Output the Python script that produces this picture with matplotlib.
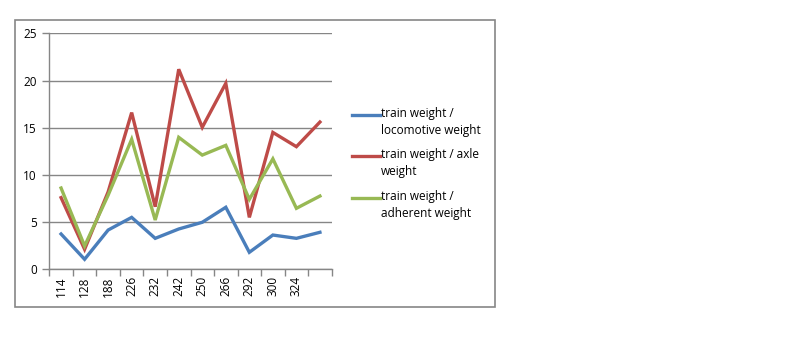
import matplotlib.pyplot as plt
from matplotlib.lines import Line2D
from matplotlib.patches import Rectangle

# category labels (last category has no label in the source)
categories = ["114", "128", "188", "226", "232", "242", "250", "266", "292", "300", "324", ""]

loco_ratio = [3.74, 1.06, 4.16, 5.5, 3.28, 4.27, 4.98, 6.57, 1.8, 3.63, 3.28, 3.92]
axle_ratio = [7.59, 2.12, 8.2, 16.6, 6.63, 21.19, 15.04, 19.7, 5.5, 14.5, 12.99, 15.6]
adherent_ratio = [8.61, 2.47, 7.85, 13.77, 5.22, 13.98, 12.1, 13.13, 7.41, 11.7, 6.46, 7.76]

series_labels = [
    "train weight /\nlocomotive weight",
    "train weight / axle\nweight",
    "train weight /\nadherent weight",
]
colors = ["#4A7EBB", "#BE4B48", "#98B954"]
grey = "#868686"

plt.rcParams["font.family"] = ["Open Sans", "DejaVu Sans"]

W, H = 800, 346
fig = plt.figure(figsize=(8, 3.46), dpi=100)
fig.patches.append(Rectangle((15 / W, 39 / H), 480 / W, 287.5 / H,
                             transform=fig.transFigure, fill=False,
                             edgecolor=grey, linewidth=1.2))

ax = fig.add_axes([49.3 / W, 76.7 / H, 282.4 / W, 236 / H])
xs = range(len(categories))
for vals, c in zip([loco_ratio, axle_ratio, adherent_ratio], colors):
    ax.plot(xs, vals, color=c, linewidth=2.4, solid_joinstyle="miter")

ax.set_xlim(-0.5, len(categories) - 0.5)
ax.set_ylim(0, 25)
ax.set_yticks(range(0, 26, 5))
ax.set_xticks(list(xs))
ax.set_xticklabels(categories, rotation=90, fontsize=8.5)
ax.set_xticks([i - 0.5 for i in range(len(categories) + 1)], minor=True)
ax.tick_params(axis="x", which="major", length=0, pad=5)
ax.tick_params(axis="x", which="minor", length=5, color=grey, width=1)
ax.tick_params(axis="y", length=5, color=grey, width=1, labelsize=8.5, pad=4)
ax.yaxis.grid(True, color=grey, linewidth=1)
ax.set_axisbelow(True)
for side in ["top", "right"]:
    ax.spines[side].set_visible(False)
for side in ["left", "bottom"]:
    ax.spines[side].set_color(grey)
    ax.spines[side].set_linewidth(1)

# legend: handle lines up with the first text line, as in Excel
for i, (lab, c) in enumerate(zip(series_labels, colors)):
    y = 114.5 + i * 41.5
    fig.add_artist(Line2D([352 / W, 380 / W], [1 - y / H] * 2, color=c,
                          linewidth=2.4, transform=fig.transFigure))
    fig.text(381 / W, 1 - (y - 8) / H, lab, fontsize=8.5, va="top", ha="left",
             linespacing=1.4)

fig.savefig("out.png", dpi=100)
